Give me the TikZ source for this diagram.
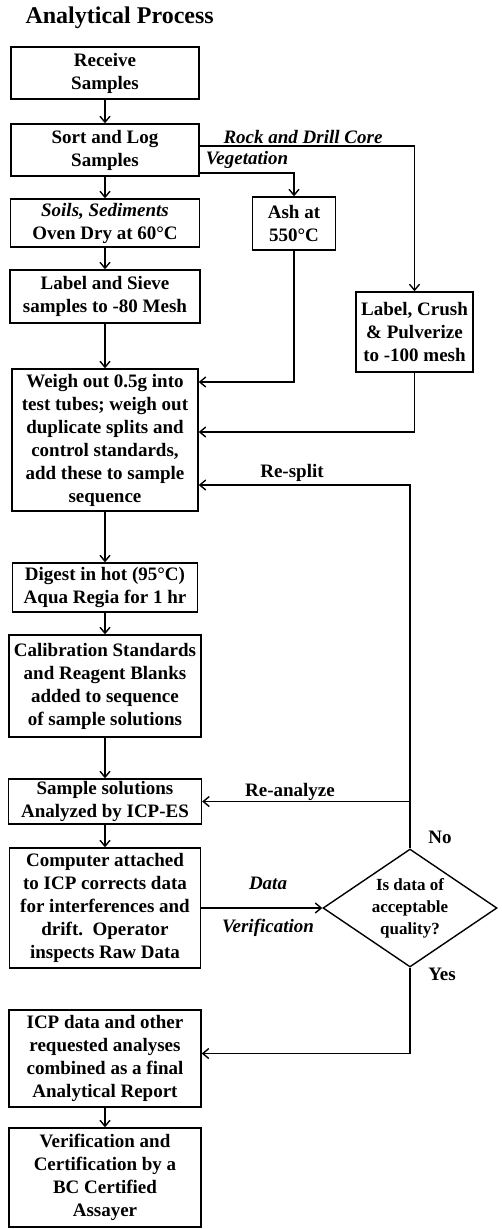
\documentclass[tikz,border=0pt]{standalone}
\usepackage{fontspec}
\setmainfont{Liberation Serif}
\usetikzlibrary{shapes.geometric, arrows.meta, positioning}

\tikzset{
  box/.style={draw, line width=1.4pt, align=center, inner sep=1pt, font=\fontsize{19}{23}\selectfont\bfseries},
  lbl/.style={font=\fontsize{19}{23}\selectfont\bfseries},
  ilbl/.style={font=\fontsize{19}{23}\selectfont\bfseries\itshape},
  flow/.style={-{Straight Barb[length=6pt,width=10pt]}, line width=1.4pt},
}

\begin{document}
\begin{tikzpicture}[x=1pt,y=-1pt]
\useasboundingbox (0,0) rectangle (501,1229);

% Title
\node[lbl, font=\fontsize{24}{28}\selectfont\bfseries, anchor=west] (title) at (22,18) {Analytical Process};

% Main column
\node[box, minimum width=188pt, minimum height=52pt] (receive) at (105,73) {Receive\\Samples};
\node[box, minimum width=188pt, minimum height=52pt] (sortlog) at (105,150) {Sort and Log\\Samples};
\node[box, minimum width=189pt, minimum height=48pt] (soils) at (105,223) {\textit{Soils, Sediments}\\Oven Dry at 60°C};
\node[box, minimum width=190pt, minimum height=53pt] (sieve) at (105,296.5) {Label and Sieve\\samples to -80 Mesh};
\node[box, minimum width=186pt, minimum height=142pt] (weigh) at (105,440) {Weigh out 0.5g into\\test tubes; weigh out\\duplicate splits and\\control standards,\\add these to sample\\sequence};
\node[box, minimum width=185pt, minimum height=49pt] (digest) at (105,587.5) {Digest in hot (95°C)\\Aqua Regia for 1 hr};
\node[box, minimum width=192pt, minimum height=102pt] (calib) at (105,686) {Calibration Standards\\and Reagent Blanks\\added to sequence\\of sample solutions};
\node[box, minimum width=193pt, minimum height=45pt] (icpes) at (105,801.5) {Sample solutions\\Analyzed by ICP-ES};
\node[box, minimum width=191pt, minimum height=120pt] (computer) at (105,908) {Computer attached\\to ICP corrects data\\for interferences and\\drift.\ \ Operator\\inspects Raw Data};
\node[box, minimum width=192pt, minimum height=97pt] (report) at (105,1058.5) {ICP data and other\\requested analyses\\combined as a final\\Analytical Report};
\node[box, minimum width=192pt, minimum height=99pt] (certify) at (105,1177.5) {Verification and\\Certification by a\\BC Certified\\Assayer};

% Side branches
\node[box, minimum width=83pt, minimum height=53pt] (ash) at (294,223.5) {Ash at\\550°C};
\node[box, minimum width=117pt, minimum height=80pt] (crush) at (414.5,332) {Label, Crush\\\& Pulverize\\to -100 mesh};

% Decision
\node[draw, diamond, line width=1.4pt, inner sep=0pt, minimum width=174pt, minimum height=118pt] (quality) at (410,908) {};
\node[lbl, font=\fontsize{17}{22}\selectfont\bfseries, align=center] (qualitytext) at (quality) {Is data of\\acceptable\\quality?};

% Labels
\node[ilbl] (rockl) at (303,137) {Rock and Drill Core};
\node[ilbl] (vegl) at (247,160) {Vegetation};
\node[lbl] (resplitl) at (292,473) {Re-split};
\node[lbl] (reanalyzel) at (290,792) {Re-analyze};
\node[lbl] (nol) at (440,837) {No};
\node[ilbl] (datal) at (268,883) {Data};
\node[ilbl] (verifl) at (268,928) {Verification};
\node[lbl] (yesl) at (442,974) {Yes};

% Arrows down the main column
\draw[flow] (receive) -- (sortlog);
\draw[flow] (sortlog) -- (soils);
\draw[flow] (soils) -- (sieve);
\draw[flow] (sieve) -- (weigh);
\draw[flow] (weigh) -- (digest);
\draw[flow] (digest) -- (calib);
\draw[flow] (calib) -- (icpes);
\draw[flow] (icpes) -- (computer);
\draw[flow] (report) -- (certify);

% Branches
\draw[flow] ([yshift=4pt]sortlog.east) -| (crush.north);
\draw[flow] ([yshift=-23pt]sortlog.east) -| (ash.north);
\draw[flow] (ash.south) |- ([yshift=58pt]weigh.east);
\draw[flow] (crush.south) |- ([yshift=8pt]weigh.east);

% Loop backs
\draw[flow] (computer.east) -- (quality.west);
\draw[flow] (quality.north) |- ([yshift=-45pt]weigh.east);
\draw[flow] (quality.north |- icpes.east) -- (icpes.east);
\draw[flow] (quality.south) |- ([yshift=5pt]report.east);
\end{tikzpicture}
\end{document}
